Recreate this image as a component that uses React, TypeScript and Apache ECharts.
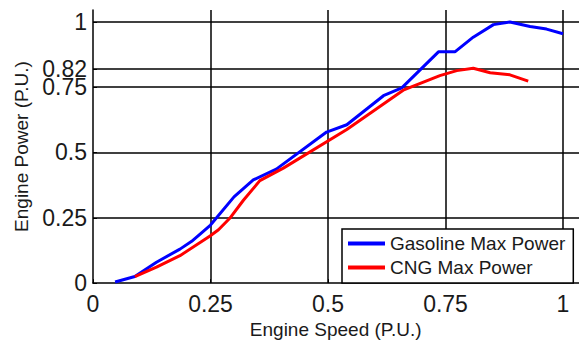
import React, { useEffect, useRef } from "react";
import * as echarts from "echarts";

const gasolineX = [0.047, 0.089, 0.135, 0.185, 0.21, 0.25, 0.3, 0.341, 0.39, 0.497, 0.54, 0.618, 0.657, 0.735, 0.77, 0.809, 0.852, 0.887, 0.93, 0.965, 1.0];
const gasolineY = [0.004, 0.025, 0.08, 0.13, 0.16, 0.222, 0.33, 0.395, 0.436, 0.578, 0.606, 0.717, 0.747, 0.885, 0.885, 0.941, 0.989, 0.999, 0.982, 0.972, 0.954];
const cngX = [0.089, 0.135, 0.185, 0.249, 0.267, 0.291, 0.32, 0.355, 0.405, 0.54, 0.66, 0.738, 0.774, 0.809, 0.845, 0.887, 0.926];
const cngY = [0.025, 0.061, 0.105, 0.18, 0.204, 0.248, 0.317, 0.392, 0.44, 0.588, 0.738, 0.794, 0.813, 0.822, 0.805, 0.797, 0.773];
const xTicks = [0, 0.25, 0.5, 0.75, 1];
const yTicks = [0, 0.25, 0.5, 0.75, 0.82, 1];
const xGridLines = [0.25, 0.5, 0.75, 1];
const yGridLines = [0.25, 0.5, 0.75, 0.82, 1];

const FONT = "'Liberation Sans', Arial, sans-serif";
const TEXT = "#1a1a1a";

export default function App() {
  const ref = useRef<HTMLDivElement>(null);
  useEffect(() => {
    if (!ref.current) return;
    const chart = echarts.init(ref.current, null, { renderer: "svg" });
    const pairs = (xs: number[], ys: number[]) => xs.map((x, i) => [x, ys[i]]);
    chart.setOption({
      animation: false,
      backgroundColor: "#fff",
      grid: { left: 93, top: 10, width: 493.5, height: 278 },
      legend: {
        orient: "vertical",
        left: 342,
        top: 229,
        padding: [5, 8, 6, 6],
        borderColor: "#000",
        borderWidth: 1.5,
        borderRadius: 0,
        backgroundColor: "#fff",
        icon: "rect",
        itemWidth: 37,
        itemHeight: 4,
        itemGap: 5,
        textStyle: { fontFamily: FONT, fontSize: 19, color: TEXT },
        data: ["Gasoline Max Power", "CNG Max Power"],
      },
      xAxis: {
        type: "value",
        min: 0,
        max: 1.05,
        name: "Engine Speed (P.U.)",
        nameLocation: "middle",
        nameGap: 34,
        nameTextStyle: { fontFamily: FONT, fontSize: 19, color: TEXT, padding: [0, 8, 0, 0] },
        axisLine: { show: true, lineStyle: { color: "#000", width: 1.5 } },
        axisTick: { show: true, inside: true, length: 4, customValues: xTicks, lineStyle: { color: "#000" } },
        axisLabel: { customValues: xTicks, fontFamily: FONT, fontSize: 23, color: TEXT, margin: 9, formatter: (v: number) => String(v) },
        splitLine: { show: false },
      },
      yAxis: {
        type: "value",
        min: 0,
        max: 1.045,
        name: "Engine Power (P.U.)",
        nameLocation: "middle",
        nameGap: 59,
        nameTextStyle: { fontFamily: FONT, fontSize: 19, color: TEXT },
        axisLine: { show: true, lineStyle: { color: "#000", width: 1.5 } },
        axisTick: { show: true, inside: true, length: 4, customValues: yTicks, lineStyle: { color: "#000" } },
        axisLabel: { customValues: yTicks, fontFamily: FONT, fontSize: 23, color: TEXT, margin: 6, formatter: (v: number) => String(v) },
        splitLine: { show: false },
      },
      series: [
        {
          name: "grid",
          type: "line",
          data: [],
          silent: true,
          z: 1,
          markLine: {
            silent: true,
            z: 1,
            symbol: "none",
            label: { show: false },
            lineStyle: { color: "#000", width: 1.5, type: "solid" },
            emphasis: { disabled: true },
            data: [
              ...yGridLines.map((v) => ({ yAxis: v })),
              ...xGridLines.map((v) => ({ xAxis: v })),
            ],
          },
        },
        {
          name: "Gasoline Max Power",
          type: "line",
          z: 3,
          showSymbol: false,
          color: "#0000ff",
          lineStyle: { width: 3, color: "#0000ff" },
          data: pairs(gasolineX, gasolineY),
        },
        {
          name: "CNG Max Power",
          type: "line",
          z: 4,
          showSymbol: false,
          color: "#ff0000",
          lineStyle: { width: 3, color: "#ff0000" },
          data: pairs(cngX, cngY),
        },
      ],
    });
    return () => chart.dispose();
  }, []);
  return (
    <div style={{ position: "absolute", left: 0, top: 0, width: 579, height: 344, overflow: "hidden" }}>
      <div ref={ref} style={{ width: 600, height: 344 }} />
    </div>
  );
}
